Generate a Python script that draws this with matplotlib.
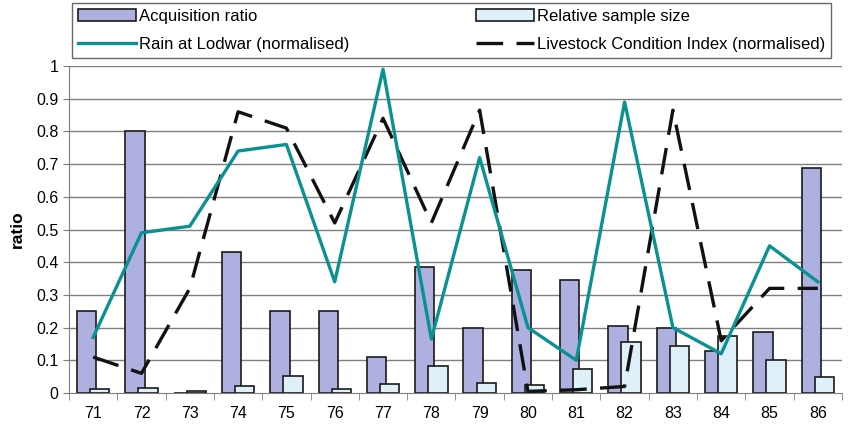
import matplotlib.pyplot as plt
import numpy as np
from matplotlib.ticker import FixedLocator, NullFormatter

plt.rcParams["font.family"] = ["Liberation Sans", "DejaVu Sans"]

years = ["71", "72", "73", "74", "75", "76", "77", "78",
         "79", "80", "81", "82", "83", "84", "85", "86"]
acquisition_ratio = [0.25, 0.80, 0.0, 0.43, 0.25, 0.25, 0.11, 0.385,
                     0.20, 0.375, 0.345, 0.205, 0.20, 0.127, 0.188, 0.687]
relative_sample = [0.012, 0.015, 0.006, 0.022, 0.051, 0.012, 0.029, 0.083,
                   0.032, 0.025, 0.073, 0.156, 0.143, 0.175, 0.102, 0.05]
rain_lodwar = [0.17, 0.49, 0.51, 0.74, 0.76, 0.34, 0.99, 0.165,
               0.72, 0.20, 0.10, 0.89, 0.20, 0.12, 0.45, 0.34]
lci = [0.11, 0.06, 0.32, 0.86, 0.81, 0.52, 0.84, 0.52,
       0.865, 0.005, 0.01, 0.02, 0.865, 0.16, 0.32, 0.32]

x = np.arange(len(years))

fig = plt.figure(figsize=(8.54, 4.3), dpi=100)
ax = fig.add_axes([69 / 854, 37 / 430, 773 / 854, 327 / 430])

for y in np.arange(0.1, 1.01, 0.1):
    ax.axhline(y, color="#7f7f7f", lw=1, zorder=0)

width = 0.40
acq = ax.bar(x - 0.135, acquisition_ratio, width, color="#aeb0e0",
             edgecolor="#1a1a1a", lw=1.2, zorder=2, label="Acquisition ratio")
rel = ax.bar(x + 0.135, relative_sample, width, color="#dff1f8",
             edgecolor="#1a1a1a", lw=1.2, zorder=3, label="Relative sample size")
rain, = ax.plot(x, rain_lodwar, color="#0a9191", lw=2.4, zorder=5,
                label="Rain at Lodwar (normalised)")
cond, = ax.plot(x, lci, color="#111111", lw=2.4, dashes=(8, 4), zorder=4,
                label="Livestock Condition Index (normalised)")

ax.set_xlim(-0.5, len(years) - 0.5)
ax.set_ylim(0, 1)
ax.set_yticks(np.arange(0, 1.01, 0.1))
ax.set_yticklabels(["0", "0.1", "0.2", "0.3", "0.4", "0.5", "0.6", "0.7",
                    "0.8", "0.9", "1"], fontsize=11.5)
ax.set_xticks(x)
ax.set_xticklabels(years, fontsize=11.5)
ax.xaxis.set_minor_locator(FixedLocator(np.arange(-0.5, len(years), 1.0)))
ax.xaxis.set_minor_formatter(NullFormatter())
ax.tick_params(axis="x", which="major", length=0, pad=9)
ax.tick_params(axis="x", which="minor", length=5, color="#7f7f7f")
ax.tick_params(axis="y", length=4, color="#7f7f7f")
ax.set_ylabel("ratio", fontsize=12.5, fontweight="bold", labelpad=8)

for side in ["top", "right"]:
    ax.spines[side].set_visible(False)
for side in ["left", "bottom"]:
    ax.spines[side].set_color("#7f7f7f")

leg = fig.legend(handles=[acq, rain, rel, cond], ncol=2, fontsize=12,
                 loc="upper left", bbox_to_anchor=(72 / 854, 427 / 430),
                 frameon=True, fancybox=False, edgecolor="#444444",
                 handlelength=3.5, handletextpad=0.15, borderaxespad=0,
                 labelspacing=0.8, columnspacing=7.6, borderpad=0.35)
leg.get_frame().set_linewidth(1)

fig.savefig("out.png", dpi=100)
